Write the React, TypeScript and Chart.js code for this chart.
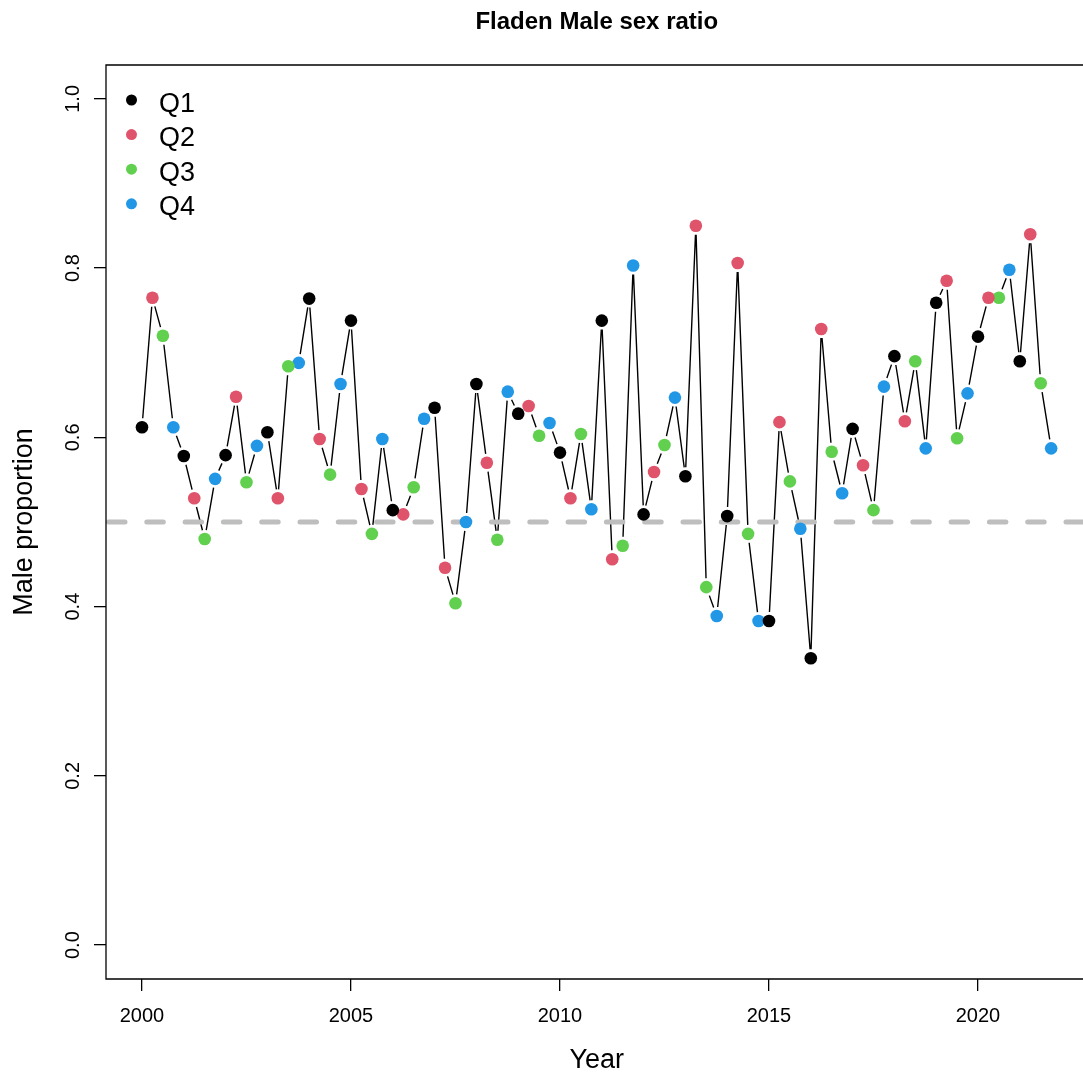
import { useEffect, useRef } from 'react';
import { Chart, registerables } from 'chart.js';

Chart.register(...registerables);

// Survey years; one male proportion per quarter and year
const years = [
  2000, 2001, 2002, 2003, 2004, 2005, 2006, 2007, 2008, 2009, 2010,
  2011, 2012, 2013, 2014, 2015, 2016, 2017, 2018, 2019, 2020, 2021,
];
const maleQ1 = [
  0.612, 0.578, 0.579, 0.606, 0.764, 0.738, 0.514, 0.635, 0.663, 0.628, 0.582,
  0.738, 0.509, 0.554, 0.507, 0.383, 0.339, 0.610, 0.696, 0.759, 0.719, 0.690,
];
const maleQ2 = [
  0.765, 0.528, 0.648, 0.528, 0.598, 0.539, 0.509, 0.446, 0.570, 0.637, 0.528,
  0.456, 0.559, 0.850, 0.806, 0.618, 0.728, 0.567, 0.619, 0.785, 0.765, 0.840,
];
const maleQ3 = [
  0.720, 0.480, 0.547, 0.684, 0.556, 0.486, 0.541, 0.404, 0.479, 0.602, 0.604,
  0.472, 0.591, 0.423, 0.486, 0.548, 0.583, 0.514, 0.690, 0.599, 0.765, 0.664,
];
const maleQ4 = [
  0.612, 0.551, 0.590, 0.688, 0.663, 0.598, 0.622, 0.500, 0.654, 0.617, 0.515,
  0.803, 0.647, 0.389, 0.383, 0.492, 0.534, 0.660, 0.587, 0.652, 0.798, 0.587,
];

const quarterLabels = ['Q1', 'Q2', 'Q3', 'Q4'];
const quarterColors = ['#000000', '#DF536B', '#61D04F', '#2297E6'];
const quarterValues = [maleQ1, maleQ2, maleQ3, maleQ4];

const xTicks = [2000, 2005, 2010, 2015, 2020];
const yTicks = [0, 0.2, 0.4, 0.6, 0.8, 1.0];
const evenRatio = 0.5;

const titleText = 'Fladen Male sex ratio';
const xTitle = 'Year';
const yTitle = 'Male proportion';

// full plotting range (data widened by 4% each side); the panel is cut
// at the right canvas edge, so the x scale stops at xVisibleMax
const xRange = [1999.139, 2022.62];
const xVisibleMax = 2022.512;
const yRange = [-0.04, 1.04];

const FONT = '"Liberation Sans", Arial, Helvetica, sans-serif';
const SEGMENT_GAP = 9;

// time-ordered series: year + (quarter - 1) / 4
const series = years.flatMap((yr, i) =>
  quarterValues.map((vals, q) => ({ x: yr + q / 4, y: vals[i] }))
);

const basePlot = {
  id: 'basePlot',
  beforeDatasetsDraw(chart: any) {
    const { ctx, chartArea: a, scales } = chart;
    const xs = scales.x;
    const ys = scales.y;
    ctx.save();
    ctx.beginPath();
    ctx.rect(a.left, a.top, a.right - a.left, a.bottom - a.top);
    ctx.clip();

    // connecting line, broken around each point
    const pts = series.map((p) => [xs.getPixelForValue(p.x), ys.getPixelForValue(p.y)]);
    ctx.strokeStyle = '#000';
    ctx.lineWidth = 1.4;
    ctx.lineCap = 'butt';
    ctx.beginPath();
    for (let i = 0; i < pts.length - 1; i++) {
      const [x0, y0] = pts[i];
      const [x1, y1] = pts[i + 1];
      const dx = x1 - x0;
      const dy = y1 - y0;
      const d = Math.hypot(dx, dy);
      if (d <= 2 * SEGMENT_GAP) continue;
      const ux = dx / d;
      const uy = dy / d;
      ctx.moveTo(x0 + ux * SEGMENT_GAP, y0 + uy * SEGMENT_GAP);
      ctx.lineTo(x1 - ux * SEGMENT_GAP, y1 - uy * SEGMENT_GAP);
    }
    ctx.stroke();

    // horizontal reference at an even sex ratio
    const yr = ys.getPixelForValue(evenRatio);
    ctx.strokeStyle = '#BEBEBE';
    ctx.lineWidth = 5;
    ctx.lineCap = 'round';
    ctx.setLineDash([16.5, 21.8]);
    ctx.beginPath();
    ctx.moveTo(a.left + 2.5, yr);
    ctx.lineTo(a.right + 10, yr);
    ctx.stroke();
    ctx.restore();
  },
  afterDraw(chart: any) {
    const { ctx, chartArea: a, scales } = chart;
    const xs = scales.x;
    const ys = scales.y;
    ctx.save();

    // plot frame (right side lies beyond the canvas)
    ctx.strokeStyle = '#000';
    ctx.lineWidth = 1.3;
    ctx.beginPath();
    ctx.moveTo(chart.width + 2, a.top);
    ctx.lineTo(a.left, a.top);
    ctx.lineTo(a.left, a.bottom);
    ctx.lineTo(chart.width + 2, a.bottom);
    ctx.stroke();

    ctx.fillStyle = '#000';
    const cx = xs.getPixelForValue((xRange[0] + xRange[1]) / 2);

    // title
    ctx.font = `bold 24px ${FONT}`;
    ctx.textAlign = 'center';
    ctx.textBaseline = 'alphabetic';
    ctx.fillText(titleText, cx, 29);

    // x tick labels
    ctx.font = `20px ${FONT}`;
    xTicks.forEach((v) => {
      ctx.fillText(String(v), xs.getPixelForValue(v), 1022);
    });

    // x axis title
    ctx.font = `27px ${FONT}`;
    ctx.fillText(xTitle, cx, 1068);

    // y tick labels, parallel to the axis
    ctx.font = `20px ${FONT}`;
    yTicks.forEach((v) => {
      ctx.save();
      ctx.translate(78.5, ys.getPixelForValue(v));
      ctx.rotate(-Math.PI / 2);
      ctx.fillText(v.toFixed(1), 0, 0);
      ctx.restore();
    });

    // y axis title
    ctx.font = `27px ${FONT}`;
    ctx.save();
    ctx.translate(32, (a.top + a.bottom) / 2);
    ctx.rotate(-Math.PI / 2);
    ctx.fillText(yTitle, 0, 0);
    ctx.restore();

    // legend
    ctx.textAlign = 'left';
    quarterLabels.forEach((lab, i) => {
      const ly = 100 + i * 34.6;
      ctx.fillStyle = quarterColors[i];
      ctx.beginPath();
      ctx.arc(131.5, ly, 5.5, 0, Math.PI * 2);
      ctx.fill();
      ctx.fillStyle = '#000';
      ctx.font = `27px ${FONT}`;
      ctx.fillText(lab, 159, ly + 11.5);
    });

    ctx.restore();
  },
};

export default function App() {
  const canvasRef = useRef<HTMLCanvasElement | null>(null);

  useEffect(() => {
    const canvas = canvasRef.current;
    if (!canvas) return;

    const datasets = quarterLabels.map((lab, q) => ({
      label: lab,
      data: years.map((yr, i) => ({ x: yr + q / 4, y: quarterValues[q][i] })),
      backgroundColor: quarterColors[q],
      borderColor: quarterColors[q],
      pointRadius: 6.3,
      pointHoverRadius: 6.3,
      pointBorderWidth: 0,
      pointStyle: 'circle' as const,
    }));

    const chart = new Chart(canvas, {
      type: 'scatter',
      data: { datasets },
      options: {
        responsive: false,
        animation: false,
        devicePixelRatio: 1,
        events: [],
        layout: {
          autoPadding: false,
          padding: { top: 65, right: 0, bottom: 0, left: 0 },
        },
        plugins: {
          legend: { display: false },
          title: { display: false },
          tooltip: { enabled: false },
        },
        scales: {
          x: {
            type: 'linear',
            min: xRange[0],
            max: xVisibleMax,
            afterBuildTicks: (s: any) => {
              s.ticks = xTicks.map((v) => ({ value: v }));
            },
            afterFit: (s: any) => {
              s.height = 98;
            },
            ticks: { display: false },
            grid: {
              display: true,
              drawOnChartArea: false,
              drawTicks: true,
              tickLength: 12,
              color: '#000',
              lineWidth: 1.3,
            },
            border: { display: false },
          },
          y: {
            type: 'linear',
            min: yRange[0],
            max: yRange[1],
            afterBuildTicks: (s: any) => {
              s.ticks = yTicks.map((v) => ({ value: v }));
            },
            afterFit: (s: any) => {
              s.width = 106;
            },
            ticks: { display: false },
            grid: {
              display: true,
              drawOnChartArea: false,
              drawTicks: true,
              tickLength: 12,
              color: '#000',
              lineWidth: 1.3,
            },
            border: { display: false },
          },
        },
      },
      plugins: [basePlot],
    });

    return () => chart.destroy();
  }, []);

  return (
    <div
      style={{
        position: 'fixed',
        left: 0,
        top: 0,
        width: 1083,
        height: 1077,
        overflow: 'hidden',
        background: '#ffffff',
      }}
    >
      <canvas
        ref={canvasRef}
        width={1083}
        height={1077}
        style={{ display: 'block', width: 1083, height: 1077 }}
      />
    </div>
  );
}
